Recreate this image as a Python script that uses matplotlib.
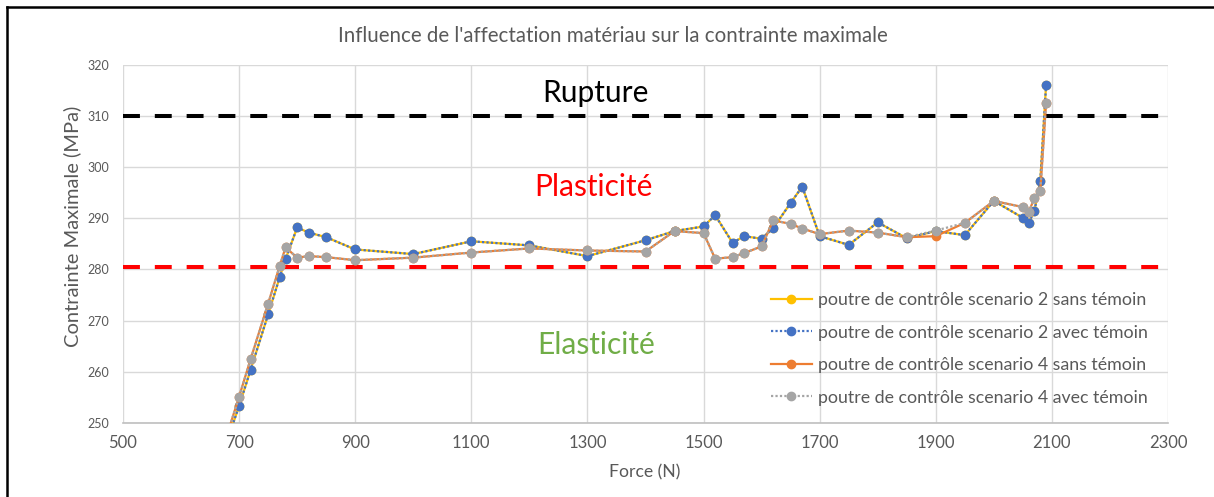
import matplotlib
matplotlib.use("Agg")
import matplotlib.pyplot as plt
from matplotlib.lines import Line2D

plt.rcParams['font.family'] = ['Lato', 'DejaVu Sans']

# Force appliquée (N)
force = [600, 700, 720, 750, 770, 780, 800, 820, 850, 900,
         1000, 1100, 1200, 1300, 1400, 1450, 1500, 1520, 1550, 1570,
         1600, 1620, 1650, 1670, 1700, 1750, 1800, 1850, 1900, 1950,
         2000, 2050, 2060, 2070, 2080, 2090]

# Contrainte maximale (MPa) par scénario
sc2_sans = [220, 253.3, 260.4, 271.2, 278.5, 282.0, 288.2, 287.2, 286.3, 283.9,
            283.0, 285.5, 284.7, 282.6, 285.7, 287.5, 288.4, 290.6, 285.2, 286.5,
            286.0, 288.1, 293.0, 296.2, 286.5, 284.8, 289.2, 286.1, 287.5, 286.7,
            293.4, 290.1, 289.1, 291.5, 297.3, 316.1]
sc2_avec = [220, 253.3, 260.4, 271.2, 278.5, 282.0, 288.2, 287.2, 286.3, 283.9,
            283.0, 285.5, 284.7, 282.6, 285.7, 287.5, 288.4, 290.6, 285.2, 286.5,
            286.0, 288.1, 293.0, 296.2, 286.5, 284.8, 289.2, 286.1, 287.5, 286.7,
            293.4, 290.1, 289.1, 291.5, 297.3, 316.1]
sc4_sans = [219, 255.1, 262.5, 273.3, 280.7, 284.3, 282.3, 282.6, 282.4, 281.8,
            282.3, 283.3, 284.1, 283.7, 283.5, 287.5, 287.1, 282.1, 282.4, 283.2,
            284.5, 289.6, 288.9, 288.0, 286.9, 287.6, 287.2, 286.3, 286.5, 289.1,
            293.4, 292.2, 291.2, 294.0, 295.3, 312.6]
sc4_avec = [219, 255.1, 262.5, 273.3, 280.7, 284.3, 282.3, 282.6, 282.4, 281.8,
            282.3, 283.3, 284.1, 283.7, 283.5, 287.5, 287.1, 282.1, 282.4, 283.2,
            284.5, 289.6, 288.9, 288.0, 286.9, 287.6, 287.2, 286.3, 287.6, 289.1,
            293.4, 292.2, 291.2, 294.0, 295.3, 312.6]

limite_rupture = 310
limite_elastique = 280.5

series = [
    ("poutre de contrôle scenario 2 sans témoin", sc2_sans, '#FFC000', '-'),
    ("poutre de contrôle scenario 2 avec témoin", sc2_avec, '#4472C4', (0, (1, 1))),
    ("poutre de contrôle scenario 4 sans témoin", sc4_sans, '#ED7D31', '-'),
    ("poutre de contrôle scenario 4 avec témoin", sc4_avec, '#A5A5A5', (0, (1, 1))),
]

W, H = 1214, 497
fig = plt.figure(figsize=(W / 100, H / 100), dpi=100)
ax = fig.add_axes([123 / W, 1 - 422.7 / H, (1168 - 123) / W, (422.7 - 65) / H])

# seuils
ax.plot([500, 2300], [limite_rupture] * 2, color='black', lw=2.9,
        linestyle=(0, (4.2, 3.7)), zorder=2)
ax.plot([500, 2300], [limite_elastique] * 2, color='#FF0000', lw=2.9,
        linestyle=(0, (4.2, 3.7)), zorder=2)

for label, vals, col, ls in series:
    ax.plot(force, vals, color=col, lw=1.6, linestyle=ls, marker='o', ms=6,
            mec=col, mfc=col, label=label, zorder=3)

ax.set_xlim(500, 2300)
ax.set_ylim(250, 320)
ax.set_xticks(range(500, 2301, 200))
ax.set_yticks(range(250, 321, 10))
ax.grid(True, color='#D9D9D9', lw=1)
ax.set_axisbelow(True)
for s in ['top', 'right', 'left']:
    ax.spines[s].set_visible(False)
ax.spines['bottom'].set_color('#BFBFBF')
ax.spines['bottom'].set_linewidth(1.2)
ax.tick_params(axis='both', length=0, colors='#595959')
ax.tick_params(axis='x', labelsize=12, pad=9)
ax.tick_params(axis='y', labelsize=9, pad=10)

ax.text(1313, 314.6, "Rupture", fontsize=21.5, color='black', ha='center', va='center')
ax.text(1310, 296.1, "Plasticité", fontsize=21.5, color='#FF0000', ha='center', va='center')
ax.text(1315, 265.2, "Elasticité", fontsize=21.5, color='#70AD47', ha='center', va='center')

fig.text(613 / W, 1 - 36 / H, "Influence de l'affectation matériau sur la contrainte maximale",
         fontsize=14.8, color='#595959', ha='center', va='center')
fig.text(645 / W, 1 - 472 / H, "Force (N)", fontsize=12.7, color='#595959',
         ha='center', va='center')
fig.text(72.7 / W, 1 - 226.7 / H, "Contrainte Maximale (MPa)", fontsize=14.5,
         color='#595959', ha='center', va='center', rotation=90)

leg = ax.legend(loc='upper left', bbox_to_anchor=(771 / W, 1 - 292 / H),
                bbox_transform=fig.transFigure, frameon=False, fontsize=12.8,
                handlelength=2.3, handletextpad=0.33, labelspacing=0.93,
                borderpad=0, borderaxespad=0)
for t in leg.get_texts():
    t.set_color('#595959')

# cadre de la capture
fig.add_artist(Line2D([7 / W, 7 / W], [0, 1 - 7 / H], color='black', lw=1.8,
                      transform=fig.transFigure))
fig.add_artist(Line2D([7 / W, 1], [1 - 7 / H, 1 - 7 / H], color='black', lw=1.8,
                      transform=fig.transFigure))

fig.savefig("out.png", dpi=100)
